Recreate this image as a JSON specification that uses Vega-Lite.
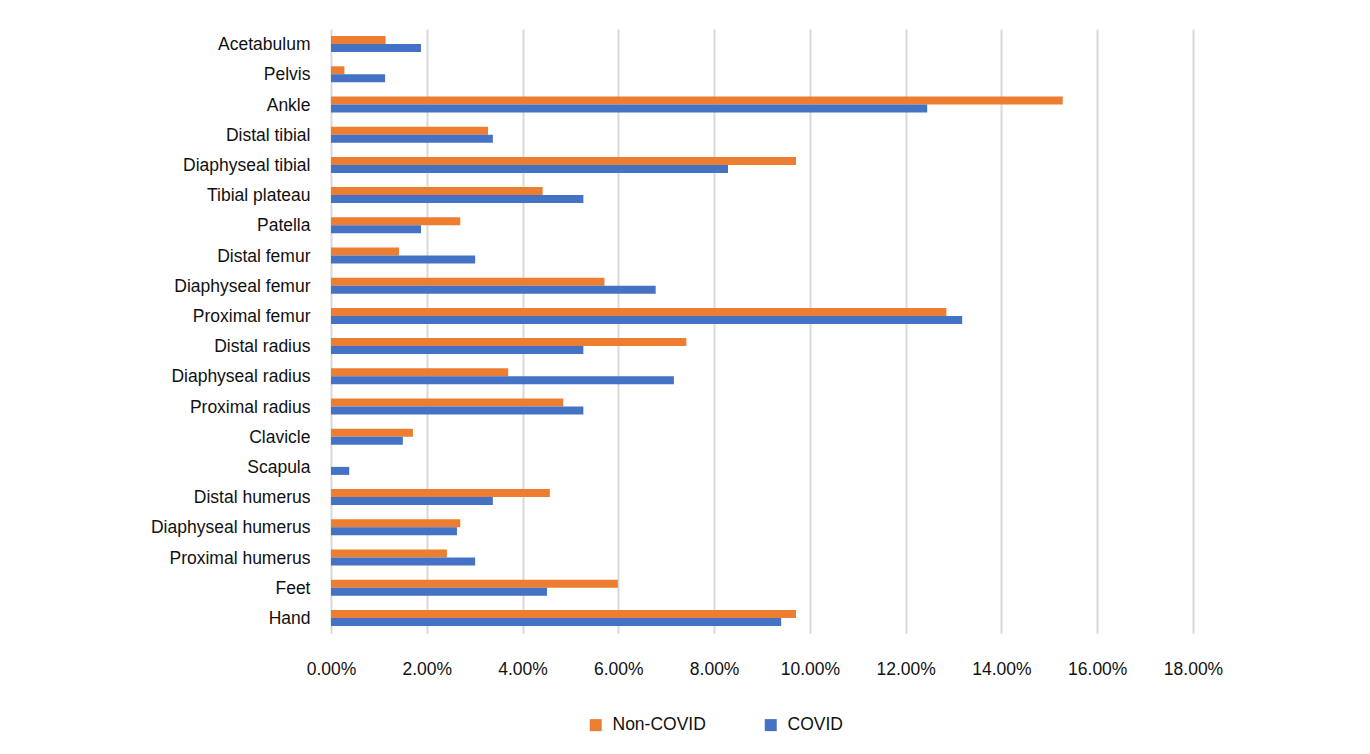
{
  "$schema": "https://vega.github.io/schema/vega-lite/v6.json",
  "width": 862,
  "height": 604,
  "autosize": "none",
  "padding": {"left": 331, "top": 29, "right": 177, "bottom": 121},
  "background": "white",
  "data": {
    "values": [
      {"site": "Acetabulum", "group": "Non-COVID", "share": 0.0114},
      {"site": "Acetabulum", "group": "COVID", "share": 0.0188},
      {"site": "Pelvis", "group": "Non-COVID", "share": 0.0028},
      {"site": "Pelvis", "group": "COVID", "share": 0.0113},
      {"site": "Ankle", "group": "Non-COVID", "share": 0.1528},
      {"site": "Ankle", "group": "COVID", "share": 0.1245},
      {"site": "Distal tibial", "group": "Non-COVID", "share": 0.0328},
      {"site": "Distal tibial", "group": "COVID", "share": 0.0338},
      {"site": "Diaphyseal tibial", "group": "Non-COVID", "share": 0.0971},
      {"site": "Diaphyseal tibial", "group": "COVID", "share": 0.0829},
      {"site": "Tibial plateau", "group": "Non-COVID", "share": 0.0442},
      {"site": "Tibial plateau", "group": "COVID", "share": 0.0527},
      {"site": "Patella", "group": "Non-COVID", "share": 0.0270},
      {"site": "Patella", "group": "COVID", "share": 0.0188},
      {"site": "Distal femur", "group": "Non-COVID", "share": 0.0142},
      {"site": "Distal femur", "group": "COVID", "share": 0.0301},
      {"site": "Diaphyseal femur", "group": "Non-COVID", "share": 0.0571},
      {"site": "Diaphyseal femur", "group": "COVID", "share": 0.0678},
      {"site": "Proximal femur", "group": "Non-COVID", "share": 0.1285},
      {"site": "Proximal femur", "group": "COVID", "share": 0.1318},
      {"site": "Distal radius", "group": "Non-COVID", "share": 0.0742},
      {"site": "Distal radius", "group": "COVID", "share": 0.0527},
      {"site": "Diaphyseal radius", "group": "Non-COVID", "share": 0.0370},
      {"site": "Diaphyseal radius", "group": "COVID", "share": 0.0716},
      {"site": "Proximal radius", "group": "Non-COVID", "share": 0.0485},
      {"site": "Proximal radius", "group": "COVID", "share": 0.0527},
      {"site": "Clavicle", "group": "Non-COVID", "share": 0.0171},
      {"site": "Clavicle", "group": "COVID", "share": 0.0150},
      {"site": "Scapula", "group": "Non-COVID", "share": 0},
      {"site": "Scapula", "group": "COVID", "share": 0.0038},
      {"site": "Distal humerus", "group": "Non-COVID", "share": 0.0457},
      {"site": "Distal humerus", "group": "COVID", "share": 0.0338},
      {"site": "Diaphyseal humerus", "group": "Non-COVID", "share": 0.0270},
      {"site": "Diaphyseal humerus", "group": "COVID", "share": 0.0263},
      {"site": "Proximal humerus", "group": "Non-COVID", "share": 0.0242},
      {"site": "Proximal humerus", "group": "COVID", "share": 0.0301},
      {"site": "Feet", "group": "Non-COVID", "share": 0.0599},
      {"site": "Feet", "group": "COVID", "share": 0.0451},
      {"site": "Hand", "group": "Non-COVID", "share": 0.0971},
      {"site": "Hand", "group": "COVID", "share": 0.0940}
    ]
  },
  "mark": {"type": "bar"},
  "encoding": {
    "y": {
      "field": "site",
      "type": "nominal",
      "sort": ["Acetabulum", "Pelvis", "Ankle", "Distal tibial", "Diaphyseal tibial", "Tibial plateau", "Patella", "Distal femur", "Diaphyseal femur", "Proximal femur", "Distal radius", "Diaphyseal radius", "Proximal radius", "Clavicle", "Scapula", "Distal humerus", "Diaphyseal humerus", "Proximal humerus", "Feet", "Hand"],
      "scale": {"paddingInner": 0.47, "paddingOuter": 0.235},
      "axis": {
        "title": null,
        "domain": false,
        "ticks": false,
        "grid": false,
        "labelPadding": 21,
        "labelFont": "Liberation Sans",
        "labelFontSize": 17.5,
        "labelColor": "#111111",
        "labelOffset": 1
      }
    },
    "yOffset": {
      "field": "group",
      "type": "nominal",
      "sort": ["Non-COVID", "COVID"],
      "scale": {"paddingInner": 0, "paddingOuter": 0}
    },
    "x": {
      "field": "share",
      "type": "quantitative",
      "scale": {"domain": [0, 0.18], "nice": false},
      "axis": {
        "title": null,
        "format": ".2%",
        "values": [0, 0.02, 0.04, 0.06, 0.08, 0.1, 0.12, 0.14, 0.16, 0.18],
        "domain": false,
        "ticks": false,
        "grid": true,
        "gridColor": "#d9d9d9",
        "gridWidth": 2,
        "labelFlush": false,
        "labelOverlap": false,
        "labelPadding": 27,
        "labelFont": "Liberation Sans",
        "labelFontSize": 17.5,
        "labelColor": "#111111"
      }
    },
    "color": {
      "field": "group",
      "type": "nominal",
      "sort": ["Non-COVID", "COVID"],
      "scale": {"domain": ["Non-COVID", "COVID"], "range": ["#ED7D31", "#4472C4"]},
      "legend": {
        "title": null,
        "orient": "none",
        "direction": "horizontal",
        "legendX": 256,
        "legendY": 687,
        "symbolType": "square",
        "symbolSize": 144,
        "symbolStrokeWidth": 0,
        "labelOffset": 8,
        "columnPadding": 56,
        "labelFont": "Liberation Sans",
        "labelFontSize": 17.5,
        "labelColor": "#111111"
      }
    }
  },
  "config": {
    "view": {"stroke": null}
  }
}
